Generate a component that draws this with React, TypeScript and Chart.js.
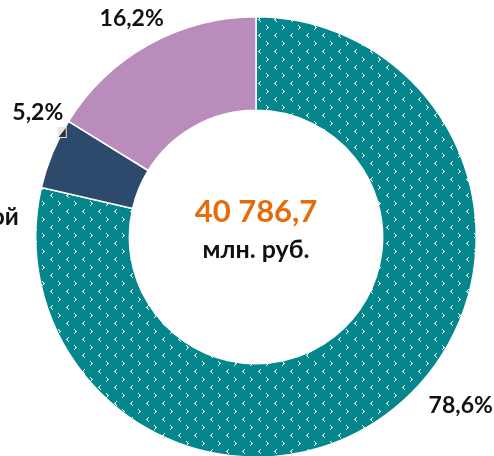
import React, { useEffect, useRef } from "react";
import { Chart, registerables } from "chart.js";

Chart.register(...registerables);

// ---- data ----
const categories = ["Сегмент 1", "Сегмент 2", "Сегмент 3"];
const shares = [78.6, 5.2, 16.2];
const shareLabels = ["78,6%", "5,2%", "16,2%"];
const totalValue = "40 786,7";
const totalUnit = "млн. руб.";
const sideLabel = "ой";

const TEAL = "#04878C";
const NAVY = "#2D4A6D";
const PURPLE = "#BA8CBB";
const ORANGE = "#E46C0A";
const FONT = "Lato, 'Open Sans', sans-serif";

function makePattern(): CanvasPattern | string {
  const c = document.createElement("canvas");
  c.width = 16;
  c.height = 16;
  const g = c.getContext("2d");
  if (!g) return TEAL;
  g.fillStyle = TEAL;
  g.fillRect(0, 0, 16, 16);
  g.fillStyle = "#ffffff";
  // "<" chevron
  const lt = (x: number, y: number) => {
    g.fillRect(x + 2, y, 1, 1);
    g.fillRect(x + 1, y + 1, 1, 1);
    g.fillRect(x, y + 2, 1, 1);
    g.fillRect(x + 1, y + 3, 1, 1);
    g.fillRect(x + 2, y + 4, 1, 1);
    g.globalAlpha = 0.6;
    g.fillRect(x + 1, y + 2, 1, 1);
    g.globalAlpha = 1;
  };
  // ">" chevron
  const gt = (x: number, y: number) => {
    g.fillRect(x, y, 1, 1);
    g.fillRect(x + 1, y + 1, 1, 1);
    g.fillRect(x + 2, y + 2, 1, 1);
    g.fillRect(x + 1, y + 3, 1, 1);
    g.fillRect(x, y + 4, 1, 1);
    g.globalAlpha = 0.6;
    g.fillRect(x + 1, y + 2, 1, 1);
    g.globalAlpha = 1;
  };
  lt(2, 1);
  gt(10, 9);
  const p = g.createPattern(c, "repeat");
  return p || TEAL;
}

// label placement tweaks (angle offset in degrees, extra radius)
const labelTweaks = [
  { da: -12, dr: 45 },
  { da: 7.4, dr: 31 },
  { da: -0.5, dr: 31 },
];

const labelPlugin = {
  id: "labelPlugin",
  afterDraw(chart: any) {
    const meta = chart.getDatasetMeta(0);
    const ctx = chart.ctx as CanvasRenderingContext2D;
    if (!meta || !meta.data.length) return;
    const a0 = meta.data[0];
    const cx = a0.x;
    const cy = a0.y;
    const R = a0.outerRadius;
    ctx.save();
    ctx.fillStyle = "#111111";
    ctx.font = `bold 23px ${FONT}`;
    ctx.textAlign = "center";
    ctx.textBaseline = "middle";
    meta.data.forEach((arc: any, i: number) => {
      const mid = (arc.startAngle + arc.endAngle) / 2 + (labelTweaks[i].da * Math.PI) / 180;
      const r = arc.outerRadius + labelTweaks[i].dr;
      ctx.fillText(shareLabels[i], cx + Math.cos(mid) * r, cy + Math.sin(mid) * r);
    });
    // partially visible category label on the left
    ctx.textAlign = "right";
    ctx.textBaseline = "alphabetic";
    ctx.font = `bold 24px ${FONT}`;
    ctx.fillText(sideLabel, cx - R - 17, cy - 12);

    // small marker near the navy slice
    ctx.fillStyle = "#e6e6e6";
    ctx.fillRect(cx - R + 22, cy - 110, 9, 11);
    ctx.fillStyle = "#333333";
    ctx.beginPath();
    ctx.moveTo(cx - R + 23, cy - 100);
    ctx.lineTo(cx - R + 30, cy - 100);
    ctx.lineTo(cx - R + 30, cy - 109);
    ctx.closePath();
    ctx.fill();

    // center text
    ctx.textAlign = "center";
    ctx.textBaseline = "middle";
    ctx.fillStyle = ORANGE;
    ctx.font = `bold 31px ${FONT}`;
    ctx.fillText(totalValue, cx, cy - 25);
    ctx.fillStyle = "#111111";
    ctx.font = `bold 25px ${FONT}`;
    ctx.textBaseline = "alphabetic";
    ctx.fillText(totalUnit, cx, cy + 21);
    ctx.restore();
  },
};

export default function App() {
  const ref = useRef<HTMLCanvasElement>(null);
  useEffect(() => {
    if (!ref.current) return;
    const pattern = makePattern();
    const chart = new Chart(ref.current, {
      type: "doughnut",
      data: {
        labels: categories,
        datasets: [
          {
            data: shares,
            backgroundColor: [pattern as any, NAVY, PURPLE],
            borderColor: "#ffffff",
            borderWidth: 1.5,
          },
        ],
      },
      options: {
        responsive: false,
        animation: false,
        cutout: "57.5%",
        layout: { padding: { left: 35, right: 17, top: 16, bottom: 2 } },
        plugins: {
          legend: { display: false },
          tooltip: { enabled: false },
        },
      },
      plugins: [labelPlugin],
    });
    return () => chart.destroy();
  }, []);
  return (
    <div
      style={{
        position: "absolute",
        left: 0,
        top: 0,
        width: 494,
        height: 456,
        overflow: "hidden",
        background: "#ffffff",
      }}
    >
      <canvas ref={ref} width={494} height={460} style={{ width: 494, height: 460, display: "block" }} />
    </div>
  );
}
